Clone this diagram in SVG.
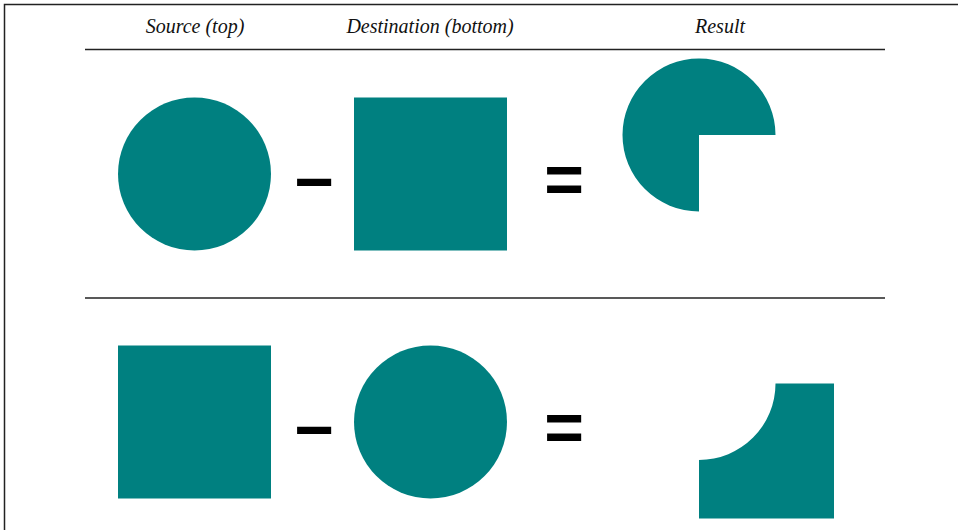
<svg xmlns="http://www.w3.org/2000/svg" width="958" height="530" viewBox="0 0 958 530">
<style>
.hdr{font-family:"Liberation Serif",serif;font-style:italic;font-size:20px;fill:#111;text-anchor:middle}
.op{font-family:"Liberation Sans",sans-serif;font-weight:bold;font-size:68px;fill:#000;text-anchor:middle}
.shape{fill:#008080}
.rule{stroke:#222;stroke-width:1.3;fill:none}
</style>
<rect x="4.5" y="4.5" width="970" height="540" fill="#fff" stroke="#222" stroke-width="1.5"/>
<g id="headers">
<text class="hdr" x="195" y="33">Source (top)</text>
<text class="hdr" x="430" y="33">Destination (bottom)</text>
<text class="hdr" x="720" y="33">Result</text>
</g>
<g id="rules">
<line class="rule" x1="85" y1="49.5" x2="885" y2="49.5"/>
<line class="rule" x1="85" y1="298" x2="885" y2="298"/>
</g>
<g id="row1">
<circle id="src1" class="shape" cx="194.5" cy="174" r="76.5"/>
<text id="minus1" class="op" x="314" y="205">−</text>
<rect id="dst1" class="shape" x="354" y="97.5" width="153" height="153"/>
<text id="eq1" class="op" x="564" y="203">=</text>
<path id="res1" class="shape" d="M699,135 L775.5,135 A76.5,76.5 0 1 0 699,211.5 Z"/>
</g>
<g id="row2">
<rect id="src2" class="shape" x="118" y="345.5" width="153" height="153"/>
<text id="minus2" class="op" x="314" y="453">−</text>
<circle id="dst2" class="shape" cx="430.5" cy="422" r="76.5"/>
<text id="eq2" class="op" x="564" y="451">=</text>
<path id="res2" class="shape" d="M775.5,383.5 L834,383.5 L834,518.5 L699,518.5 L699,460 A76.5,76.5 0 0 0 775.5,383.5 Z"/>
</g>
</svg>
